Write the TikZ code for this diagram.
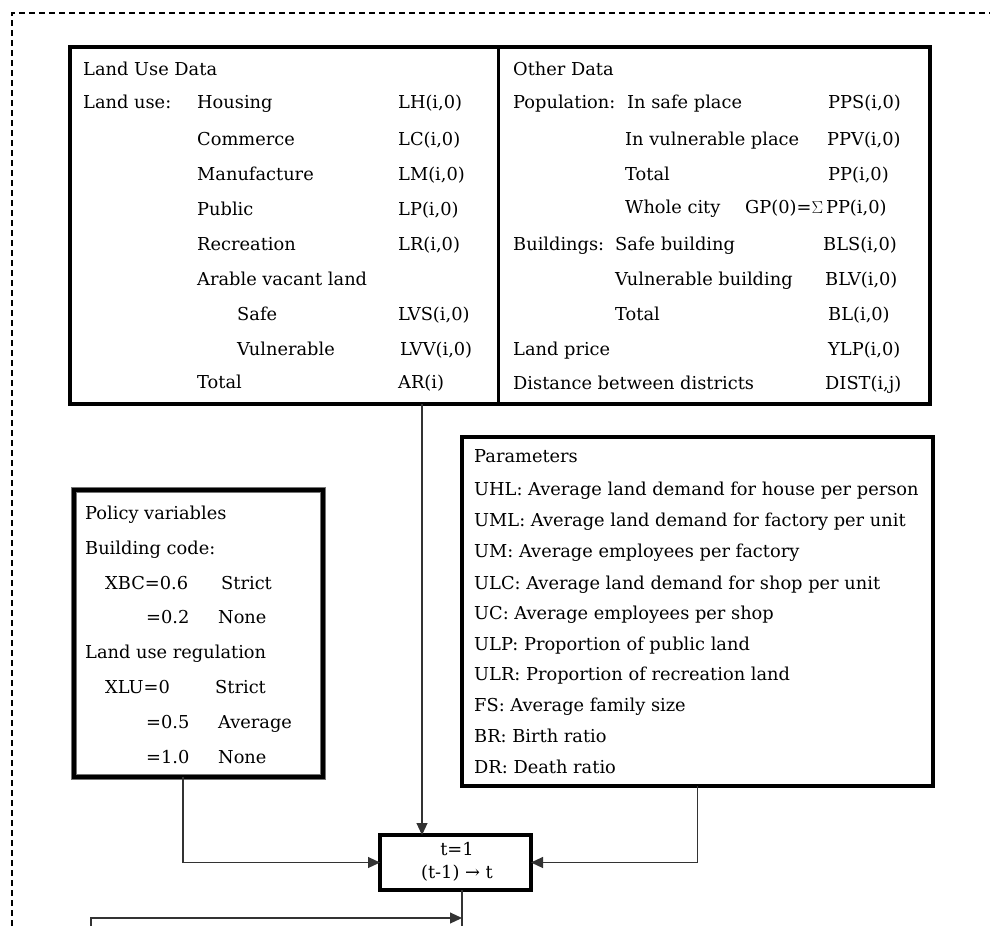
\documentclass[tikz,border=0pt]{standalone}
\usepackage{fontspec}
\setmainfont{DejaVu Serif}
\usetikzlibrary{arrows.meta}
\begin{document}
\begin{tikzpicture}[x=1pt,y=-1pt,
  txt/.style={anchor=base west, inner sep=0pt, font=\fontsize{17.8}{20}\selectfont},
  ctxt/.style={anchor=base, inner sep=0pt, font=\fontsize{17.8}{20}\selectfont},
  bigbox/.style={draw, line width=4pt, inner sep=0pt, outer sep=0pt, anchor=north west},
  conn/.style={draw=black!80, line width=1.1pt},
  arr/.style={conn, -{Triangle[length=12pt,width=11pt]}}]
\useasboundingbox (0,0) rectangle (990,926);
% dashed frame
\draw[line width=1.2pt, dash pattern=on 6pt off 4pt] (12,926) -- (12,13) -- (990,13);
% top box
\node[bigbox, minimum width=860pt, minimum height=357pt] (lud) at (70,47) {};
\draw[line width=3pt] (lud.north -| 498,0) -- (lud.south -| 498,0);
% left texts
\node[txt] (a0) at (83,75) {Land Use Data};
\node[txt] (a1) at (83,108) {Land use:};
\node[txt] (a2) at (197,108) {Housing};
\node[txt] (a3) at (398,108) {LH(i,0)};
\node[txt] (a4) at (197,145) {Commerce};
\node[txt] (a5) at (398,145) {LC(i,0)};
\node[txt] (a6) at (197,180) {Manufacture};
\node[txt] (a7) at (398,180) {LM(i,0)};
\node[txt] (a8) at (197,215) {Public};
\node[txt] (a9) at (398,215) {LP(i,0)};
\node[txt] (a10) at (197,250) {Recreation};
\node[txt] (a11) at (398,250) {LR(i,0)};
\node[txt] (a12) at (197,285) {Arable vacant land};
\node[txt] (a13) at (237,320) {Safe};
\node[txt] (a14) at (398,320) {LVS(i,0)};
\node[txt] (a15) at (237,355) {Vulnerable};
\node[txt] (a16) at (400,355) {LVV(i,0)};
\node[txt] (a17) at (197,388) {Total};
\node[txt] (a18) at (398,388) {AR(i)};
% right texts
\node[txt] (b0) at (513,75) {Other Data};
\node[txt] (b1) at (513,108) {Population:};
\node[txt] (b2) at (627,108) {In safe place};
\node[txt] (b3) at (828,108) {PPS(i,0)};
\node[txt] (b4) at (625,145) {In vulnerable place};
\node[txt] (b5) at (827,145) {PPV(i,0)};
\node[txt] (b6) at (625,180) {Total};
\node[txt] (b7) at (828,180) {PP(i,0)};
\node[txt] (b8) at (625,213) {Whole city};
\node[txt] (b9) at (745,213) {GP(0)=$\Sigma$\,PP(i,0)};
\node[txt] (b10) at (513,250) {Buildings:};
\node[txt] (b11) at (615,250) {Safe building};
\node[txt] (b12) at (823,250) {BLS(i,0)};
\node[txt] (b13) at (615,285) {Vulnerable building};
\node[txt] (b14) at (825,285) {BLV(i,0)};
\node[txt] (b15) at (615,320) {Total};
\node[txt] (b16) at (828,320) {BL(i,0)};
\node[txt] (b17) at (513,355) {Land price};
\node[txt] (b18) at (828,355) {YLP(i,0)};
\node[txt] (b19) at (513,389) {Distance between districts};
\node[txt] (b20) at (825,389) {DIST(i,j)};
% policy box
\node[bigbox, line width=6pt, draw=black!55, minimum width=249pt, minimum height=287pt] (pol) at (73.5,489.5) {};
\draw[line width=4pt] (pol.north west) rectangle (pol.south east);
\node[txt] (p0) at (85,519) {Policy variables};
\node[txt] (p1) at (85,554) {Building code:};
\node[txt] (p2) at (105,589) {XBC=0.6};
\node[txt] (p3) at (221,589) {Strict};
\node[txt] (p4) at (146,623) {=0.2};
\node[txt] (p5) at (218,623) {None};
\node[txt] (p6) at (85,658) {Land use regulation};
\node[txt] (p7) at (105,693) {XLU=0};
\node[txt] (p8) at (215,693) {Strict};
\node[txt] (p9) at (146,728) {=0.5};
\node[txt] (p10) at (218,728) {Average};
\node[txt] (p11) at (146,763) {=1.0};
\node[txt] (p12) at (218,763) {None};
% parameters box
\node[bigbox, minimum width=471pt, minimum height=349pt] (par) at (462,437) {};
\node[txt] (q0) at (474,462) {Parameters};
\node[txt] (q1) at (474,495) {UHL: Average land demand for house per person};
\node[txt] (q2) at (474,526) {UML: Average land demand for factory per unit};
\node[txt] (q3) at (474,557) {UM: Average employees per factory};
\node[txt] (q4) at (474,589) {ULC: Average land demand for shop per unit};
\node[txt] (q5) at (474,619) {UC: Average employees per shop};
\node[txt] (q6) at (474,650) {ULP: Proportion of public land};
\node[txt] (q7) at (474,680) {ULR: Proportion of recreation land};
\node[txt] (q8) at (474,711) {FS: Average family size};
\node[txt] (q9) at (474,742) {BR: Birth ratio};
\node[txt] (q10) at (474,773) {DR: Death ratio};
% t=1 box
\node[bigbox, minimum width=151pt, minimum height=55pt] (tb) at (380,835) {};
\node[ctxt] (t0) at (457,855) {t=1};
\node[ctxt] (t1) at (457,878) {(t-1) → t};
% connectors
\coordinate (c1) at (422,0);
\coordinate (c2) at (183,0);
\coordinate (c3) at (462,0);
\coordinate (c4) at (91,926);
\coordinate (c5) at (462,926);
\draw[arr] (lud.south -| c1) -- (tb.north -| c1);
\draw[arr] (pol.south -| c2) |- (tb.west);
\draw[arr] (par.south) |- (tb.east);
\draw[conn] (tb.south -| c3) -- (c5);
\draw[arr] (c4) -- (91,918) -- (462,918);
\end{tikzpicture}
\end{document}
